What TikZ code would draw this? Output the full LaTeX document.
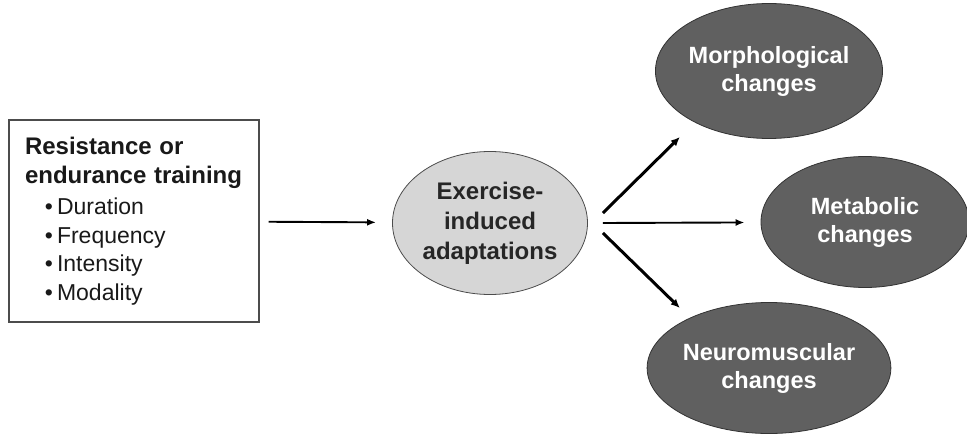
\documentclass[tikz,border=0pt]{standalone}
\usepackage{fontspec}
\setmainfont{Liberation Sans}
\usetikzlibrary{positioning,shapes.geometric,arrows.meta}

\definecolor{lightfill}{HTML}{D6D6D6}
\definecolor{darkfill}{HTML}{606060}

\begin{document}
\begin{tikzpicture}[x=1pt,y=1pt,
    lightoval/.style={ellipse, draw=black!70, line width=0.8pt, fill=lightfill,
      inner sep=0pt, align=center, text=black!85,
      font=\bfseries\fontsize{24}{30}\selectfont},
    darkoval/.style={ellipse, draw=black!80, line width=0.8pt, fill=darkfill,
      inner sep=0pt, align=center, text=white,
      font=\bfseries\fontsize{23.5}{28}\selectfont},
    thinarrow/.style={line width=1.9pt, -{Latex[length=9pt,width=7pt]}},
    thickarrow/.style={line width=3pt, -{Latex[length=9pt,width=8pt]}}]
  \useasboundingbox (0,0) rectangle (967,-436);
  % input box
  \node[draw=black!70, line width=1.2pt, minimum width=250pt, minimum height=202pt,
        text width=218pt, inner xsep=16pt, align=left, text=black!90,
        font=\fontsize{23}{28.5}\selectfont] (train) at (134,-221)
    {{\bfseries\fontsize{24}{28}\selectfont Resistance or\\endurance training}\\[3pt]
     \hspace*{20pt}•\hspace{4pt}Duration\\
     \hspace*{20pt}•\hspace{4pt}Frequency\\
     \hspace*{20pt}•\hspace{4pt}Intensity\\
     \hspace*{20pt}•\hspace{4pt}Modality};
  % ovals
  \node[lightoval, minimum width=195pt, minimum height=143pt] (exer) at (490,-223)
    {Exercise-\\induced\\adaptations};
  \node[darkoval, minimum width=216pt, minimum height=135pt] (morph) at (769,-71)
    {Morphological\\changes};
  \node[darkoval, minimum width=208pt, minimum height=131pt] (metab) at (865,-222)
    {Metabolic\\changes};
  \node[darkoval, minimum width=215pt, minimum height=131pt] (neuro) at (769,-368)
    {Neuromuscular\\changes};
  % arrows
  \draw[thinarrow, shorten <=9pt, shorten >=16pt] (train) -- (exer);
  \coordinate (fork) at ([xshift=15pt]exer.east);
  \draw[thickarrow] ([yshift=10pt]fork) -- ++(77,76);
  \draw[thinarrow, shorten >=16pt] (fork) -- (metab);
  \draw[thickarrow] ([yshift=-10pt]fork) -- ++(77,-75);
\end{tikzpicture}
\end{document}
